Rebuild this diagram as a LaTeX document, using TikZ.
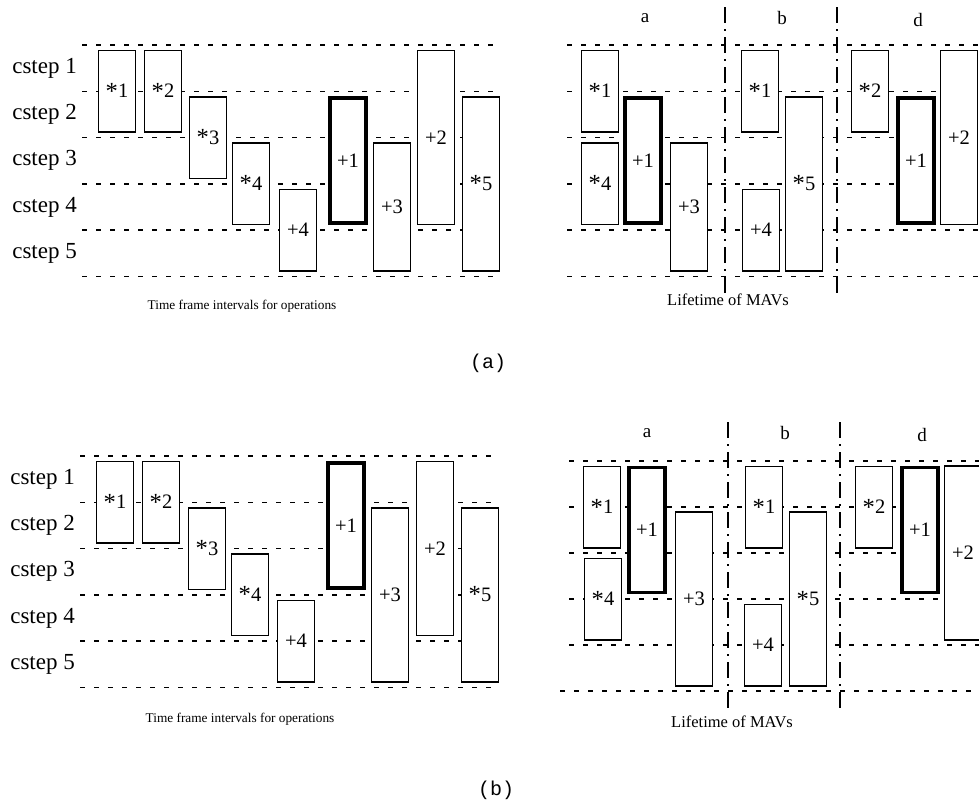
\documentclass[tikz,border=0pt]{standalone}
\usepackage{fontspec}
\setmainfont{Liberation Serif}
\newfontfamily\subcapfont{Liberation Mono}
\usetikzlibrary{positioning}
\newcommand{\opstar}{\raisebox{-1.5pt}{\scalebox{1.2}{*}}}

\begin{document}
\begin{tikzpicture}[
  x=1pt, y=-1pt,
  op/.style      = {draw, fill=white, line width=1.4pt, minimum width=37pt,
                    inner sep=0pt, font=\fontsize{20.5}{22}\selectfont},
  hot/.style     = {op, line width=3.8pt, minimum width=36pt},
  rows/.style    = {minimum height={#1*46.3pt-11pt}},
  hrows/.style   = {minimum height={#1*46.3pt-14pt}},
  cstep/.style   = {anchor=east, inner sep=0pt, font=\fontsize{23}{25}\selectfont},
  dotrow/.style  = {line width=1.5pt, dash pattern=on 5pt off 9pt},
  divider/.style = {line width=1.4pt, dash pattern=on 16pt off 6pt on 2pt off 6pt},
  mav/.style     = {font=\fontsize{19}{21}\selectfont},
  caption/.style = {font=\fontsize{13.3}{15}\selectfont},
  lifecap/.style = {font=\fontsize{16.5}{18}\selectfont},
  subcap/.style  = {font=\subcapfont\fontsize{20}{22}\selectfont}
]
\useasboundingbox (0,0) rectangle (979,807);

%% ---- TOP: (a) ----
\begin{scope}[yshift=-45pt, y=-46.3pt]
  % dotted rows
  \foreach \k in {0,...,5} {
    \draw[dotrow] (82,\k) -- (498,\k);
    \draw[dotrow] (567,\k) -- (979,\k);
  }
  \foreach \k in {1,...,5}
    \node[cstep] (ta-cstep\k) at (77,\k-0.5) {cstep \k};

  % time frames
  \node[op, rows=2]   (ta-mul1) at (117,1)   {\opstar1};
  \node[op, rows=2]   (ta-mul2) at (163,1)   {\opstar2};
  \node[op, rows=2]   (ta-mul3) at (208,2)   {\opstar3};
  \node[op, rows=2]   (ta-mul4) at (251,3)   {\opstar4};
  \node[op, rows=2]   (ta-add4) at (298,4)   {+4};
  \node[hot, hrows=3] (ta-add1) at (348,2.5) {+1};
  \node[op, rows=3]   (ta-add3) at (392,3.5) {+3};
  \node[op, rows=4]   (ta-add2) at (436,2)   {+2};
  \node[op, rows=4]   (ta-mul5) at (481,3)   {\opstar5};

  % lifetimes, MAV a
  \node[op, rows=2]   (ta-a-mul1) at (600,1)   {\opstar1};
  \node[op, rows=2]   (ta-a-mul4) at (600,3)   {\opstar4};
  \node[hot, hrows=3] (ta-a-add1) at (643,2.5) {+1};
  \node[op, rows=3]   (ta-a-add3) at (689,3.5) {+3};
  % MAV b
  \node[op, rows=2]   (ta-b-mul1) at (760,1)   {\opstar1};
  \node[op, rows=2]   (ta-b-add4) at (761,4)   {+4};
  \node[op, rows=4]   (ta-b-mul5) at (804,3)   {\opstar5};
  % MAV d
  \node[op, rows=2]   (ta-d-mul2) at (870,1)   {\opstar2};
  \node[hot, hrows=3] (ta-d-add1) at (916,2.5) {+1};
  \node[op, rows=4]   (ta-d-add2) at (959,2)   {+2};
\end{scope}

\draw[divider] (725,7) -- (725,297);
\draw[divider] (837,7) -- (837,297);
\node[mav] (ta-mav-a) at (645,18) {a};
\node[mav] (ta-mav-b) at (782,18) {b};
\node[mav] (ta-mav-d) at (918,20) {d};

\node[caption] (ta-frames) at (242,306) {Time frame intervals for operations};
\node[lifecap] (ta-life)   at (728,300) {Lifetime of MAVs};
\node[subcap]  (ta-sub)    at (488,363) {(a)};

%% ---- BOTTOM: (b) ----
\begin{scope}[yshift=-456pt, y=-46.3pt]
  % dotted rows
  \foreach \k in {0,...,5}
    \draw[dotrow] (80,\k) -- (498,\k);
  \foreach \k in {1,...,5}
    \node[cstep] (tb-cstep\k) at (75,\k-0.5) {cstep \k};

  % time frames
  \node[op, rows=2]   (tb-mul1) at (115,1)   {\opstar1};
  \node[op, rows=2]   (tb-mul2) at (161,1)   {\opstar2};
  \node[op, rows=2]   (tb-mul3) at (207,2)   {\opstar3};
  \node[op, rows=2]   (tb-mul4) at (250,3)   {\opstar4};
  \node[op, rows=2]   (tb-add4) at (296,4)   {+4};
  \node[hot, hrows=3] (tb-add1) at (346,1.5) {+1};
  \node[op, rows=4]   (tb-add3) at (390,3)   {+3};
  \node[op, rows=4]   (tb-add2) at (435,2)   {+2};
  \node[op, rows=4]   (tb-mul5) at (480,3)   {\opstar5};
\end{scope}

\begin{scope}[yshift=-461pt, y=-46pt]
  % dotted rows
  \foreach \k in {0,...,4}
    \draw[dotrow] (569,\k) -- (979,\k);
  \draw[dotrow] (560,5) -- (979,5);

  % lifetimes, MAV a
  \node[op, rows=2]   (tb-a-mul1) at (602,1)   {\opstar1};
  \node[op, rows=2]   (tb-a-mul4) at (603,3)   {\opstar4};
  \node[hot, hrows=3] (tb-a-add1) at (647,1.5) {+1};
  \node[op, rows=4]   (tb-a-add3) at (694,3)   {+3};
  % MAV b
  \node[op, rows=2]   (tb-b-mul1) at (764,1)   {\opstar1};
  \node[op, rows=2]   (tb-b-add4) at (763,4)   {+4};
  \node[op, rows=4]   (tb-b-mul5) at (808,3)   {\opstar5};
  % MAV d
  \node[op, rows=2]   (tb-d-mul2) at (874,1)   {\opstar2};
  \node[hot, hrows=3] (tb-d-add1) at (920,1.5) {+1};
  \node[op, rows=4]   (tb-d-add2) at (963,2)   {+2};
\end{scope}

\draw[divider] (728,422) -- (728,713);
\draw[divider] (840,422) -- (840,713);
\node[mav] (tb-mav-a) at (647,433) {a};
\node[mav] (tb-mav-b) at (785,433) {b};
\node[mav] (tb-mav-d) at (922,435) {d};

\node[caption] (tb-frames) at (240,719) {Time frame intervals for operations};
\node[lifecap] (tb-life)   at (732,722) {Lifetime of MAVs};
\node[subcap]  (tb-sub)    at (496,790) {(b)};

\end{tikzpicture}
\end{document}
